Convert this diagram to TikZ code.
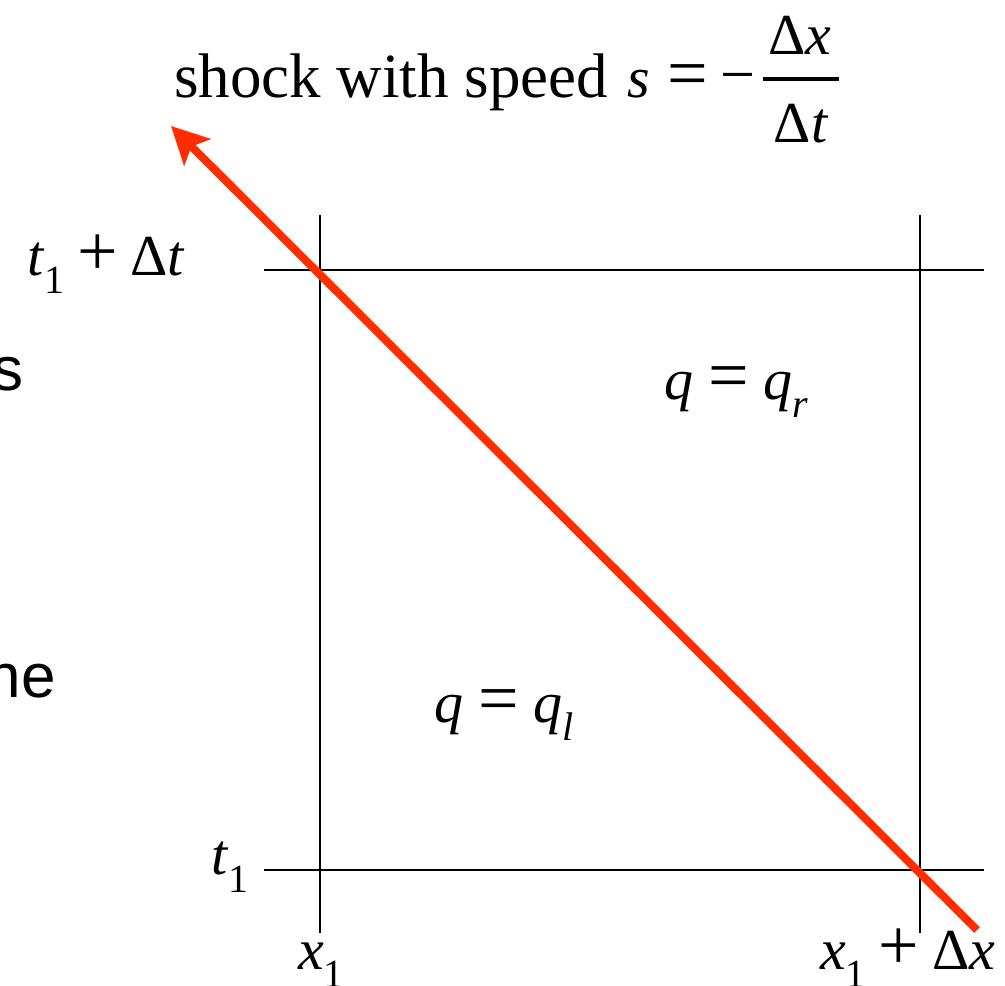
\documentclass[tikz,border=0pt]{standalone}
\usepackage{fontspec}
\usetikzlibrary{arrows.meta}
\setmainfont{Liberation Serif}
\setsansfont{Liberation Sans}
\newcommand\mysub[1]{\raisebox{-0.32em}{\fontsize{40}{40}\selectfont #1}}
\newcommand\msp{\hspace{0.26em}}
\newcommand\psp{\hspace{0.22em}}
\newcommand\bop[1]{{\fontsize{72}{72}\selectfont #1}}
\begin{document}
\begin{tikzpicture}[x=1pt,y=-1pt,
  lbl/.style={inner sep=0pt,font=\fontsize{58}{60}\selectfont},
  titlefont/.style={inner sep=0pt,font=\fontsize{63}{65}\selectfont},
  grid/.style={line width=2pt,black},
  shock/.style={line width=8pt,color=shockred,-{Stealth[length=37pt,width=37pt,inset=8pt]}}]
\definecolor{shockred}{RGB}{255,45,0}
\useasboundingbox (0,0) rectangle (1005,986);
\fill[white] (0,0) rectangle (1005,986);
% grid
\coordinate (vlt) at (320,215); \coordinate (vlb) at (320,933);
\coordinate (vrt) at (920,215); \coordinate (vrb) at (920,933);
\coordinate (htl) at (264,270); \coordinate (htr) at (984,270);
\coordinate (hbl) at (264,870); \coordinate (hbr) at (984,870);
\draw[grid] (vlt) -- (vlb);
\draw[grid] (vrt) -- (vrb);
\draw[grid] (htl) -- (htr);
\draw[grid] (hbl) -- (hbr);
% shock
\coordinate (ss) at (977,930);
\coordinate (se) at (171,126);
\draw[shock] (ss) -- (se);
% labels
\node[titlefont,anchor=base west] (title) at (174,97) {shock with speed};
\node[lbl,anchor=base west] (eq) at (627,97) {\textit{s}\hspace{18pt}\bop{=}\hspace{12pt}\raisebox{2pt}{\fontsize{62}{62}\selectfont −}};
\node[lbl,anchor=base] (num) at (800,54) {Δ\textit{x}};
\node[lbl,anchor=base] (den) at (801,142) {Δ\textit{t}};
\draw[line width=3.5pt] (763,79) -- (839,79);
\node[lbl,anchor=base west] (ttop) at (27,275) {\textit{t}\mysub{1}\psp\bop{+}\psp Δ\textit{t}};
\node[lbl,anchor=base west] (tbot) at (211,874) {\textit{t}\mysub{1}};
\node[lbl,anchor=base west] (xl) at (298,969) {\textit{x}\mysub{1}};
\node[lbl,anchor=base west] (xr) at (820,969) {\textit{x}\mysub{1}\psp\bop{+}\psp Δ\textit{x}};
\node[lbl,anchor=base west] (qr) at (664,399) {\textit{q}\msp\bop{=}\msp\textit{q}\mysub{\textit{r}}};
\node[lbl,anchor=base west] (ql) at (434,722) {\textit{q}\msp\bop{=}\msp\textit{q}\mysub{\textit{l}}};
\node[inner sep=0pt,anchor=base east,font=\sffamily\fontsize{62}{64}\selectfont] (s1) at (24,390) {s};
\node[inner sep=0pt,anchor=base east,font=\sffamily\fontsize{62}{64}\selectfont] (s2) at (56,697) {ne};
\end{tikzpicture}
\end{document}
